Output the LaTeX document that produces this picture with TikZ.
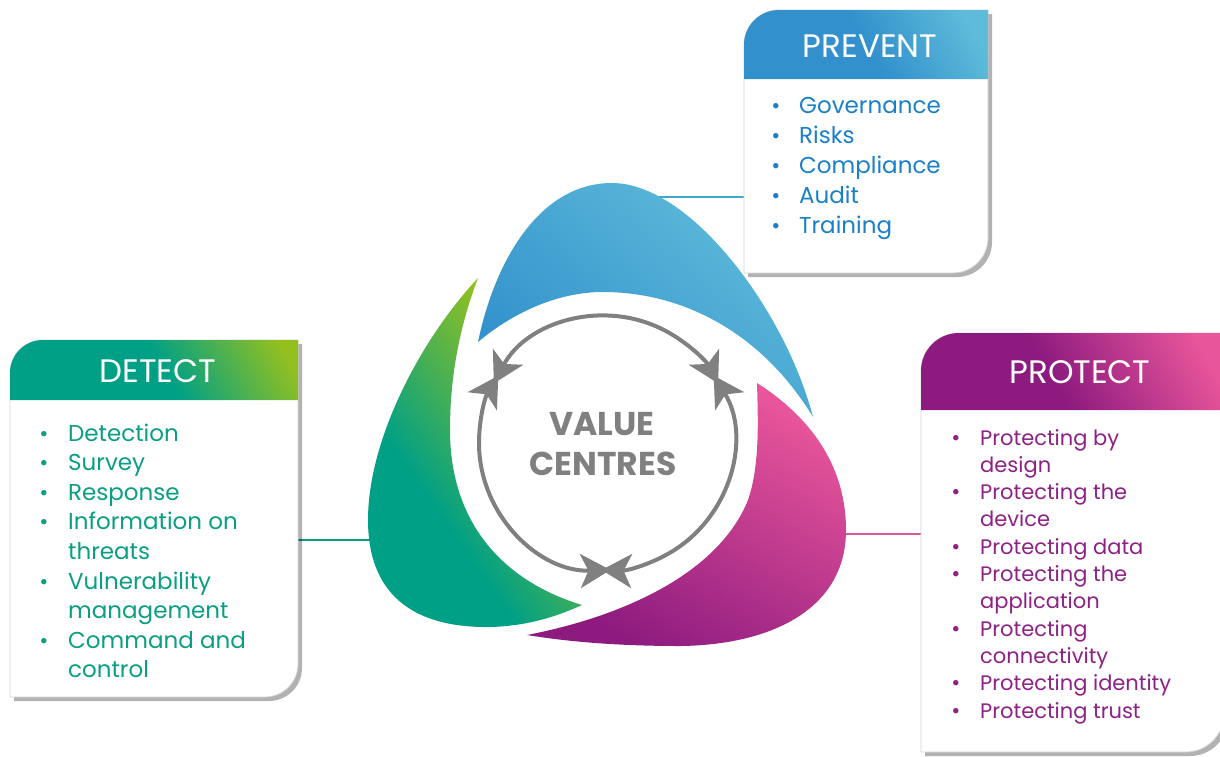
\documentclass[tikz,border=0pt]{standalone}
\usepackage{fontspec}
\setmainfont{Poppins}
\usetikzlibrary{arrows.meta,shadows}
\definecolor{blueD}{HTML}{3290CC}
\definecolor{blueL}{HTML}{5EBCDA}
\definecolor{tealD}{HTML}{00A086}
\definecolor{limeL}{HTML}{93C01F}
\definecolor{purpD}{HTML}{8C1A7F}
\definecolor{pinkL}{HTML}{E8559A}
\definecolor{vcgray}{HTML}{808080}
\definecolor{prevtxt}{HTML}{1A80C8}
\definecolor{dettxt}{HTML}{0A9E84}
\definecolor{prottxt}{HTML}{8E2185}
\definecolor{boxline}{HTML}{D2D2D2}
\definecolor{linkblue}{HTML}{3EA6CF}
\definecolor{linkgreen}{HTML}{0A9E84}
\definecolor{linkpink}{HTML}{E0559A}
\pgfdeclareverticalshading{greenpet}{100bp}{color(0bp)=(tealD); color(38bp)=(tealD); color(68bp)=(limeL); color(100bp)=(limeL)}
\pgfdeclareverticalshading{bluehead}{100bp}{color(0bp)=(blueD); color(50bp)=(blueD); color(78bp)=(blueL); color(100bp)=(blueL)}
\pgfdeclareverticalshading{greenhead}{100bp}{color(0bp)=(tealD); color(52bp)=(tealD); color(80bp)=(limeL); color(100bp)=(limeL)}
\pgfdeclareverticalshading{pinkhead}{100bp}{color(0bp)=(purpD); color(45bp)=(purpD); color(78bp)=(pinkL); color(100bp)=(pinkL)}
\newcommand\tlbrbox[5]{(#1,#2+#5) arc[start angle=180,end angle=270,radius=#5] -- (#3,#2) -- (#3,#4-#5) arc[start angle=0,end angle=90,radius=#5] -- (#1,#4) -- cycle}
\newcommand\tlhead[5]{(#1,#2+#5) arc[start angle=180,end angle=270,radius=#5] -- (#3,#2) -- (#3,#4) -- (#1,#4) -- cycle}
\begin{document}
\begin{tikzpicture}[x=1pt,y=-1pt,
  boxbody/.style={fill=white, draw=boxline, line width=0.8pt,
    drop shadow={shadow xshift=4pt, shadow yshift=-4pt, opacity=0.3, fill=black}},
  link/.style={line width=2.5pt},
  vcarrow/.style={draw=vcgray, line width=4pt,
    {Stealth[length=30pt,width=34pt,inset=8pt]}-{Stealth[length=30pt,width=34pt,inset=8pt]}},
  headtxt/.style={text=white, font=\fontsize{32.5}{34}\selectfont, inner sep=0pt, anchor=base},
  listtxt/.style={font=\fontsize{23}{28}\selectfont, inner sep=0pt, anchor=base west},
  bul/.style={font=\fontsize{22}{28}\selectfont, inner sep=0pt, anchor=base},
  vctxt/.style={font=\bfseries\fontsize{33}{38}\selectfont, text=vcgray, inner sep=0pt, anchor=base},
]
\fill[white] (0,0) rectangle (1220,756);
\useasboundingbox (0,0) rectangle (1220,756);

% connector end points
\coordinate (blueP) at (640,197);
\coordinate (prevL) at (744,197);
\coordinate (greenP) at (372,540);
\coordinate (detR) at (297,540);
\coordinate (magP) at (843,534);
\coordinate (protL) at (921,534);
\draw[link, linkblue] (blueP) -- (prevL);
\draw[link, linkgreen] (detR) -- (greenP);
\draw[link, linkpink] (magP) -- (protL);

% petals
\path[top color=blueL, bottom color=blueD, shading angle=-40]
  (478,342) .. controls (495,260) and (540,183) .. (612,183)
  .. controls (690,183) and (785,310) .. (813,417)
  .. controls (760,330) and (680,292) .. (603,292)
  .. controls (555,292) and (510,315) .. (478,342) -- cycle;
\path[shading=greenpet, shading angle=-55]
  (478,278) .. controls (420,340) and (368,440) .. (368,520)
  .. controls (368,600) and (420,628) .. (490,627)
  .. controls (530,626) and (560,615) .. (582,605)
  .. controls (500,580) and (450,520) .. (450,430)
  .. controls (450,370) and (462,320) .. (478,278) -- cycle;
\path[top color=pinkL, bottom color=purpD, shading angle=-30]
  (757,383) .. controls (815,420) and (846,470) .. (846,530)
  .. controls (846,610) and (770,645) .. (680,646)
  .. controls (620,646) and (570,642) .. (527,635)
  .. controls (630,615) and (720,570) .. (748,500)
  .. controls (760,465) and (758,420) .. (757,383) -- cycle;

% central cycle
\coordinate (vcc) at (606,443);
\draw[vcarrow] ([shift={(208:127)}]vcc) arc[start angle=208, end angle=332, radius=127];
\draw[vcarrow] ([shift={(328:127)}]vcc) arc[start angle=328, end angle=452, radius=127];
\draw[vcarrow] ([shift={(88:127)}]vcc) arc[start angle=88, end angle=212, radius=127];
\node[vctxt] (vc1) at (602,435) {VALUE};
\node[vctxt] (vc2) at (603,475) {CENTRES};

% PREVENT box
\path[boxbody] \tlbrbox{744}{10}{988}{273}{35};
\path[shading=bluehead, shading angle=-60] \tlhead{744}{10}{988}{79}{35};
\node[headtxt] (prevH) at (870,57) {PREVENT};
\foreach \t [count=\i] in {Governance,Risks,Compliance,Audit,Training} {
  \node[listtxt, text=prevtxt] (pv\i) at (799,{113+30*(\i-1)}) {\t};
  \node[bul, text=prevtxt] (pvb\i) at (776,{113+30*(\i-1)}) {\textbullet};
}

% DETECT box
\path[boxbody] \tlbrbox{10}{340}{298}{697}{33};
\path[shading=greenhead, shading angle=-60] \tlhead{10}{340}{298}{400}{33};
\node[headtxt] (detH) at (158,382) {DETECT};
\foreach \t/\b [count=\i] in {Detection/1,Survey/1,Response/1,Information on/1,threats/0,Vulnerability/1,management/0,Command and/1,control/0} {
  \node[listtxt, text=dettxt] (dt\i) at (68,{441+29.6*(\i-1)}) {\t};
  \ifnum\b=1 \node[bul, text=dettxt] (dtb\i) at (44,{441+29.6*(\i-1)}) {\textbullet};\fi
}

% PROTECT box
\path[boxbody] \tlbrbox{921}{333}{1224}{752}{38};
\path[shading=pinkhead, shading angle=-60] \tlhead{921}{333}{1224}{410}{38};
\node[headtxt] (protH) at (1080,383) {PROTECT};
\foreach \t/\b [count=\i] in {Protecting by/1,design/0,Protecting the/1,device/0,Protecting data/1,Protecting the/1,application/0,Protecting/1,connectivity/0,Protecting identity/1,Protecting trust/1} {
  \node[listtxt, text=prottxt, font=\fontsize{21}{26}\selectfont] (pt\i) at (980,{445+27.3*(\i-1)}) {\t};
  \ifnum\b=1 \node[bul, text=prottxt] (ptb\i) at (956,{445+27.3*(\i-1)}) {\textbullet};\fi
}
\end{tikzpicture}
\end{document}
